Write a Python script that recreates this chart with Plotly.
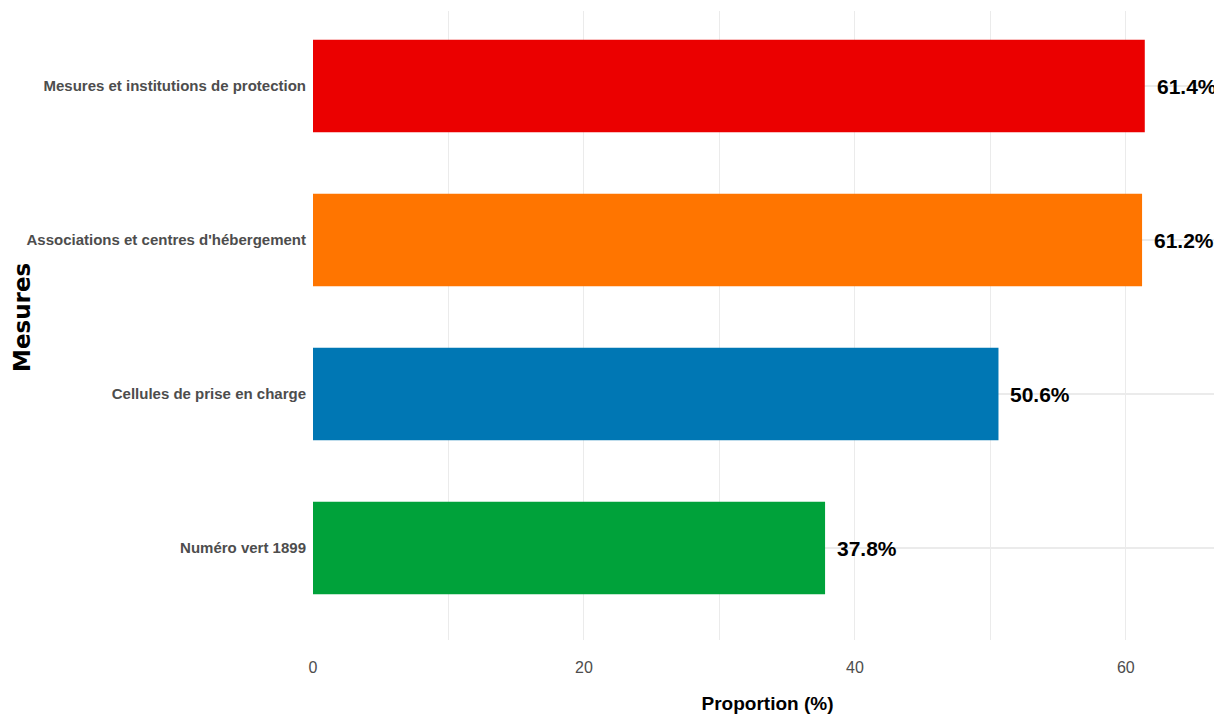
import plotly.graph_objects as go

# Data (top to bottom as displayed)
categories = [
    "Mesures et institutions de protection",
    "Associations et centres d'hébergement",
    "Cellules de prise en charge",
    "Numéro vert 1899",
]
values = [61.4, 61.2, 50.6, 37.8]
labels = ["61.4%", "61.2%", "50.6%", "37.8%"]
colors = ["#EB0000", "#FF7500", "#0077B4", "#00A23A"]
x_ticks = [0, 20, 40, 60]

FONT = "Liberation Sans Narrow, Arial Narrow, Liberation Sans, Arial, sans-serif"

# the page adds an 8px body margin, so the figure is sized 8px smaller
PAGE_OFF = 8
W, H = 1222 - PAGE_OFF, 720 - PAGE_OFF
ML, MT, MB, MR = 313 - PAGE_OFF, 11 - PAGE_OFF, 80, 0
PW, PH = W - ML - MR, H - MT - MB

fig = go.Figure()
fig.add_trace(go.Bar(
    x=values,
    y=categories,
    orientation="h",
    marker=dict(color=colors, line=dict(width=0)),
    width=0.6,
    hoverinfo="x+y",
    showlegend=False,
))

for c, v, t in zip(categories, values, labels):
    fig.add_annotation(
        x=v, y=c, xref="x", yref="y",
        text=t, showarrow=False,
        xanchor="left", yanchor="middle", xshift=10,
        font=dict(family=FONT, size=21, color="#000000", weight="bold"),
    )

fig.add_annotation(
    xref="paper", yref="paper",
    x=-(313 - 22) / PW, y=(640 - 318) / PH,
    text="Mesures", textangle=-90, showarrow=False,
    xanchor="center", yanchor="middle",
    font=dict(family="DejaVu Sans, Liberation Sans, sans-serif", size=23,
              color="#000000", weight="bold"),
)

fig.update_layout(
    width=W, height=H,
    margin=dict(l=ML, r=MR, t=MT, b=MB, pad=0),
    paper_bgcolor="white",
    plot_bgcolor="white",
    bargap=0.4,
    xaxis=dict(
        range=[0, 67.1],
        automargin=False,
        tickvals=x_ticks,
        ticktext=[str(v) for v in x_ticks],
        showgrid=True, gridcolor="#EBEBEB", gridwidth=1.3,
        minor=dict(dtick=10, showgrid=True, gridcolor="#EBEBEB", gridwidth=1.3),
        zeroline=False, showline=False, ticks="",
        tickfont=dict(family=FONT, size=16, color="#4D4D4D"),
        ticklabelstandoff=16,
        title=dict(text="Proportion (%)", standoff=21,
                   font=dict(family=FONT, size=19, color="#000000", weight="bold")),
    ),
    yaxis=dict(
        categoryorder="array",
        categoryarray=categories[::-1],
        range=[-0.597, 3.487],
        automargin=False,
        showgrid=True, gridcolor="#EBEBEB", gridwidth=1.6,
        zeroline=False, showline=False, ticks="",
        tickfont=dict(family=FONT, size=15, color="#4D4D4D", weight="bold"),
        ticklabelstandoff=6,
    ),
)

fig.write_html("out.html")
